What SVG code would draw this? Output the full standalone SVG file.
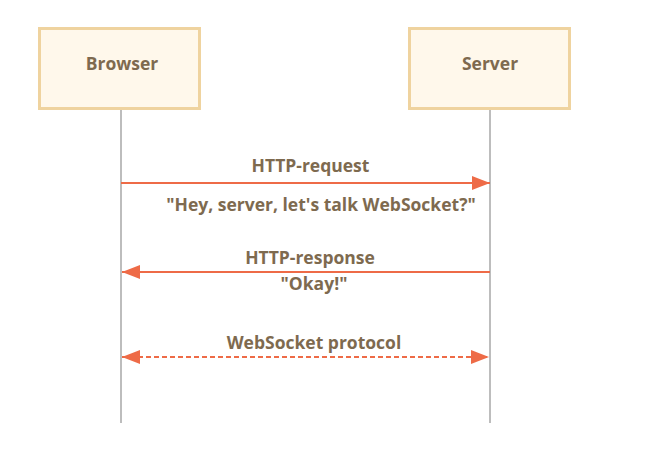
<svg xmlns="http://www.w3.org/2000/svg" width="645" height="455" viewBox="0 0 645 455">
<defs>
<style>
.box{fill:#fff8eb;stroke:#efd39f;stroke-width:3}
.t{font-family:"Open Sans","Liberation Sans",sans-serif;font-weight:bold;font-size:17.5px;fill:#7e6a4f;text-anchor:middle}
.life{stroke:#9a9a9a;stroke-width:1.3}
.msg{stroke:#ee6b47;stroke-width:2;fill:none}
.dash{stroke-dasharray:5 3}
</style>
<marker id="ah2" viewBox="0 0 18 14" refX="18" refY="7" markerWidth="18" markerHeight="14" markerUnits="userSpaceOnUse" orient="auto-start-reverse">
<path d="M0,0 L18,7 L0,14 z" fill="#ee6b47"/>
</marker>
</defs>
<rect width="645" height="455" fill="#ffffff"/>
<g id="browser">
<rect class="box" x="39.5" y="28.5" width="160" height="80"/>
<text class="t" x="122" y="70">Browser</text>
</g>
<g id="server">
<rect class="box" x="409.5" y="28.5" width="160" height="80"/>
<text class="t" x="490" y="70">Server</text>
</g>
<g id="connectors">
<line class="life" x1="121" y1="110" x2="121" y2="423"/>
<line class="life" x1="490" y1="110" x2="490" y2="423"/>
<line class="msg" x1="121" y1="183" x2="490" y2="183" marker-end="url(#ah2)"/>
<line class="msg" x1="490" y1="272" x2="122" y2="272" marker-end="url(#ah2)"/>
<line class="msg dash" x1="122" y1="357" x2="489" y2="357" marker-start="url(#ah2)" marker-end="url(#ah2)"/>
</g>
<g id="labels">
<text class="t" x="310.5" y="172">HTTP-request</text>
<text class="t" x="321" y="211">"Hey, server, let's talk WebSocket?"</text>
<text class="t" x="310" y="264">HTTP-response</text>
<text class="t" x="314" y="290">"Okay!"</text>
<text class="t" x="314" y="349">WebSocket protocol</text>
</g>
</svg>
